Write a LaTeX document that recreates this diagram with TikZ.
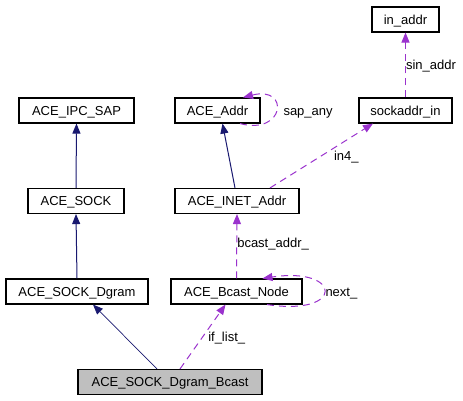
\documentclass[tikz,border=0pt]{standalone}
\usepackage{fontspec}
\setmainfont{Liberation Sans}
\usetikzlibrary{arrows.meta}

\begin{document}
\begin{tikzpicture}[x=1pt, y=-1pt,
  cls/.style={draw=black, line width=1.1pt, minimum height=25pt, inner sep=0pt,
              text height=9.3pt, text depth=0pt, font=\fontsize{13}{15}\selectfont},
  lbl/.style={inner sep=0pt, text height=9.3pt, text depth=0pt, font=\fontsize{13}{15}\selectfont},
  inherit/.style={draw=navyedge, line width=1pt, -{Triangle[length=10pt,width=8pt]}},
  uses/.style={draw=useedge, line width=1pt, dash pattern=on 7pt off 5pt,
               -{Triangle[length=10pt,width=8pt]}}]

%─────────────
% Controls
%─────────────
\definecolor{navyedge}{RGB}{25,25,112}   % inheritance edges
\definecolor{useedge}{RGB}{154,50,205}   % usage edges
\definecolor{mainfill}{RGB}{191,191,191} % the documented class
\useasboundingbox (0,0) rectangle (463,400);

%─────────────
% Classes
%─────────────
\node[cls, minimum width=67pt]  (inaddr)    at (405.5,19.5)  {in\_addr};
\node[cls, minimum width=115pt] (ipcsap)    at (76.5,110.5)  {ACE\_IPC\_SAP};
\node[cls, minimum width=85pt]  (addr)      at (217.5,110.5) {ACE\_Addr};
\node[cls, minimum width=93pt]  (sockaddr)  at (405.5,110.5) {sockaddr\_in};
\node[cls, minimum width=96pt]  (sock)      at (76,201)      {ACE\_SOCK};
\node[cls, minimum width=124pt] (inet)      at (237,201)     {ACE\_INET\_Addr};
\node[cls, minimum width=142pt] (dgram)     at (77,291.5)    {ACE\_SOCK\_Dgram};
\node[cls, minimum width=131pt] (bcastnode) at (236.5,291.5) {ACE\_Bcast\_Node};
\node[cls, minimum width=184pt, fill=mainfill] (bcast) at (170,382) {ACE\_SOCK\_Dgram\_Bcast};

%─────────────
% Inheritance
%─────────────
\draw[inherit] (sock.north) -- (ipcsap.south);
\draw[inherit] (dgram.north) -- (sock.south);
\draw[inherit, line width=0.7pt] ([xshift=-13pt]bcast.north) -- ([xshift=16pt]dgram.south);
\draw[inherit] ([xshift=-2pt]inet.north) -- ([xshift=5pt]addr.south);

%─────────────
% Usage (members)
%─────────────
\draw[uses] (sockaddr.north) -- node[lbl, right] {sin\_addr} (inaddr.south);
\draw[uses] ([xshift=33pt]inet.north) -- node[lbl, right=12pt] {in4\_} ([xshift=-32.5pt]sockaddr.south);
\draw[uses] (bcastnode.north) -- node[lbl, right, pos=0.55] {bcast\_addr\_} (inet.south);
\draw[uses] ([xshift=10pt]bcast.north) -- node[lbl, right=5pt] {if\_list\_} ([xshift=-11pt]bcastnode.south);

% self references
\draw[uses] ([xshift=22.5pt]addr.south) .. controls +(45,12) and +(47,-12) ..
  node[lbl, right=7pt] {sap\_any} ([xshift=25.5pt]addr.north);
\draw[uses] ([xshift=30.5pt]bcastnode.south) .. controls +(78,12) and +(80,-12) ..
  node[lbl, right=1pt] {next\_} ([xshift=26pt]bcastnode.north);

\end{tikzpicture}
\end{document}
